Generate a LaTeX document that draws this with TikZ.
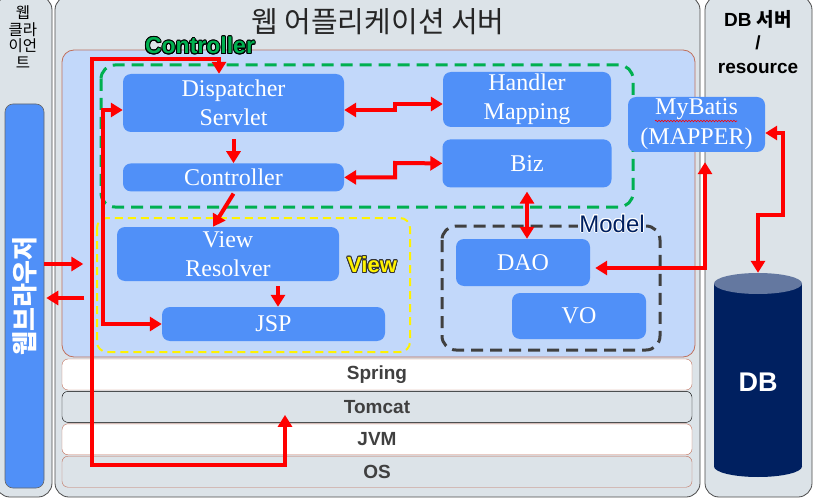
\documentclass[tikz,border=0pt]{standalone}
\usepackage{fontspec}
\setmainfont{Liberation Serif}
\setsansfont{Liberation Sans}
\newfontfamily\kor{Noto Sans CJK KR}
\usepackage{contour}
\contourlength{0.9pt}
\usetikzlibrary{arrows.meta,positioning,decorations.pathmorphing}

\definecolor{boxblue}{RGB}{80,144,248}
\definecolor{areablue}{RGB}{194,216,250}
\definecolor{colgray}{RGB}{220,227,232}
\definecolor{dbnavy}{RGB}{0,32,96}
\definecolor{dbtop}{RGB}{100,120,160}
\definecolor{ctrlgreen}{RGB}{0,176,80}
\definecolor{edgebrown}{RGB}{192,112,92}
\definecolor{txtgray}{RGB}{64,64,64}
\definecolor{modelgray}{RGB}{64,64,64}

\begin{document}
\begin{tikzpicture}[x=1pt,y=-1pt,>={Triangle[length=12pt,width=14pt]}]
   \tikzstyle{comp}=[rectangle,rounded corners=8pt,fill=boxblue,text=white,align=center,inner sep=0pt,font=\fontsize{24}{29}\selectfont]
   \tikzstyle{layer}=[rectangle,rounded corners=6pt,draw=edgebrown,minimum width=630pt,minimum height=31pt,font=\sffamily\bfseries\fontsize{19}{22}\selectfont,text=txtgray]
   \tikzstyle{column}=[draw=black!70,fill=colgray,rounded corners=14pt,line width=0.8pt]
   \tikzstyle{flow}=[draw=red,line width=4pt]
   \tikzstyle{zone}=[line width=3pt,dash pattern=on 12pt off 7pt,rounded corners=14pt]
   \tikzstyle{tag}=[font=\sffamily\bfseries\fontsize{23}{26}\selectfont]

   \path[use as bounding box,fill=white] (0,0) rectangle (817,500);
   \draw[column] (-4,-4) rectangle (52,497);
   \draw[column] (55,-4) rectangle (700,497);
   \draw[column] (705,-4) rectangle (812,497);
   \draw[fill=areablue,draw=edgebrown,line width=0.8pt,rounded corners=12pt] (62,50) rectangle (695,357);

   \node (title) at (378,22) [font=\kor\fontsize{29}{32}\selectfont,text=black!85] {웹 어플리케이션 서버};
   \node (client) at (23,37) [align=center,font=\kor\fontsize{15.5}{16.7}\selectfont] {웹\\클라\\이언\\트};
   \node (dbsrv) at (758,42) [align=center,font=\sffamily\bfseries\fontsize{19}{23.5}\selectfont] {DB {\kor 서버}\\/\\resource};
   \node[comp,draw=black!60,line width=0.6pt,minimum width=39pt,minimum height=384pt] (browser) at (24.5,296) {\rotatebox{90}{\kor\bfseries\fontsize{26}{30}\selectfont 웹브라우저}};

   \draw[zone,draw=ctrlgreen] (101,65) rectangle (633,207);
   \draw[zone,draw=yellow,line width=2pt,dash pattern=on 8pt off 5pt,rounded corners=10pt] (97,218) rectangle (410,352);
   \draw[zone,draw=modelgray] (442,226) rectangle (660,350);

   \node[comp,minimum width=221pt,minimum height=58pt] (disp) at (233.5,103) {Dispatcher\\Servlet};
   \node[comp,minimum width=221pt,minimum height=28pt] (ctrl) [below=31pt of disp] {Controller};
   \node[comp,minimum width=168pt,minimum height=55pt] (hmap) at (527,99.5) {Handler\\Mapping};
   \node[comp,minimum width=169pt,minimum height=48pt] (biz) [below=12pt of hmap] {Biz};
   \node[comp,minimum width=137pt,minimum height=55pt,font=\fontsize{24}{30}\selectfont] (mapper) at (696.5,124.5) {MyBatis\\(MAPPER)};
   \node[comp,minimum width=222pt,minimum height=54pt] (vres) at (228,254) {View\\Resolver};
   \node[comp,minimum width=223pt,minimum height=34pt] (jsp) at (273.5,324) {JSP};
   \node[comp,minimum width=134pt,minimum height=47pt] (dao) at (523,262.5) {DAO};
   \node[comp,minimum width=134pt,minimum height=46pt] (vo) at (579,316) {VO};
   \draw[red,line width=0.6pt,decorate,decoration={snake,amplitude=0.8pt,segment length=3pt}] (655,121) -- (737,121);

   \fill[dbnavy] (758,466.5) ellipse [x radius=44,y radius=10.5];
   \fill[dbnavy] (714,283.5) rectangle (802,466.5);
   \fill[dbtop] (758,283.5) ellipse [x radius=44,y radius=10.5];
   \node[minimum width=88pt,minimum height=204pt,inner sep=0pt,text=white,font=\sffamily\bfseries\fontsize{27}{32}\selectfont] (db) at (758,375) {\raisebox{-16.7pt}[0pt][0pt]{DB}};

   \node[tag] (ctrltag) at (200,46) {\contour{black}{\textcolor{ctrlgreen}{Controller}}};
   \node[tag,font=\sffamily\bfseries\fontsize{22}{25}\selectfont] (viewtag) at (372,265) {\contour{black!80}{\textcolor{yellow}{View}}};
   \node[tag,font=\sffamily\fontsize{24}{26}\selectfont,fill=areablue,inner sep=1pt] (modeltag) at (612,224) {\contour{white}{\textcolor{dbnavy}{Model}}};

   \node[layer,fill=white] (spring) at (377,374.5) {Spring};
   \node[layer,fill=colgray,draw=black] (tomcat) [below=1pt of spring] {Tomcat};
   \node[layer,fill=white] (jvm) [below=1pt of tomcat] {JVM};
   \node[layer,fill=colgray] (os) [below=1pt of jvm] {OS};

   \coordinate (tc-in) at ([xshift=-92pt,yshift=-8pt]tomcat.center);
   \draw[flow,<->] (tc-in) |- (92,465) |- (219,59) -- ([xshift=-14.5pt]disp.north);
   \draw[flow,<->] ([yshift=-7pt]disp.west) -| (103,324) -- (jsp.west);
   \draw[flow,<->] ([yshift=-7pt]disp.east) -| (395,104) -- ([yshift=-4.5pt]hmap.west);
   \draw[flow,<->] (ctrl.east) -| (395,163) -- (biz.west);
   \draw[flow,->] ([yshift=-7pt]disp.south) -- (ctrl.north);
   \draw[flow,->] ([yshift=-2pt]ctrl.south) -- ([xshift=-15pt]vres.north);
   \draw[flow,->] ([xshift=50pt,yshift=-5pt]vres.south) -- ([xshift=4.5pt]jsp.north);
   \draw[flow,<->] ([yshift=-4pt]biz.south) -- (biz.south |- dao.north);
   \draw[flow,<->] ([xshift=8.5pt,yshift=-10pt]mapper.south) |- ([xshift=5pt,yshift=-5.5pt]dao.east);
   \draw[flow,<->] ([yshift=-8.5pt]mapper.east) -| (783,215) -| (db.north);
   \draw[flow,->] ([yshift=32pt]browser.east) -- ++(39,0);
   \draw[flow,->] ([xshift=40pt,yshift=-2pt]browser.east) -- ([xshift=2pt,yshift=-2pt]browser.east);
\end{tikzpicture}
\end{document}
